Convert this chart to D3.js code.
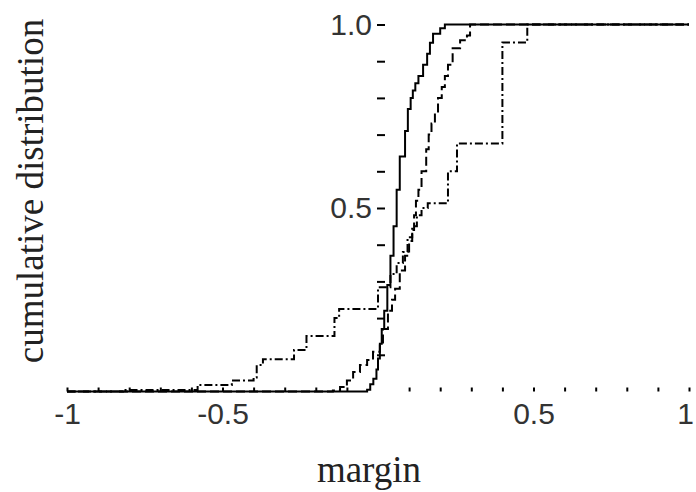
<!doctype html>
<html>
<head>
<meta charset="utf-8"/>
<style>
    html, body { margin: 0; padding: 0; background: #fff; }
    svg { display: block; }
    .tick-label { font-family: 'Liberation Sans', Arial, sans-serif; font-size: 30px; fill: #333; }
    .title { font-family: 'Liberation Serif', 'Times New Roman', serif; font-size: 37px; fill: #222; }
</style>
<script src="https://d3js.org/d3.v7.min.js"></script>
</head>
<body>
<svg id="chart" width="696" height="492"></svg>
<script>
    // --- DATA (step points: at x the cumulative value jumps to y) --- //
    var solidX = [-1, -0.035, -0.025, -0.015, -0.005, 0, 0.006, 0.012, 0.02, 0.03, 0.04, 0.05, 0.06, 0.07, 0.087,
        0.096, 0.105, 0.112, 0.12, 0.13, 0.145, 0.158, 0.167, 0.177, 0.2, 0.215, 1];
    var solidY = [0, 0.005, 0.02, 0.035, 0.06, 0.09, 0.13, 0.17, 0.22, 0.29, 0.37, 0.45, 0.55, 0.64, 0.71,
        0.77, 0.8, 0.82, 0.84, 0.86, 0.89, 0.92, 0.95, 0.975, 0.99, 1, 1];

    var dashedX = [-1, -0.145, -0.122, -0.1, -0.08, -0.058, -0.035, -0.016, 0.006, 0.016, 0.032, 0.045, 0.055, 0.07,
        0.087, 0.1, 0.11, 0.116, 0.122, 0.13, 0.14, 0.155, 0.163, 0.172, 0.183, 0.193, 0.205, 0.215, 0.225,
        0.24, 0.264, 0.286, 0.296, 1];
    var dashedY = [0, 0.003, 0.012, 0.03, 0.053, 0.072, 0.086, 0.108, 0.13, 0.17, 0.22, 0.25, 0.28, 0.33,
        0.37, 0.41, 0.44, 0.48, 0.52, 0.55, 0.6, 0.66, 0.7, 0.73, 0.76, 0.8, 0.83, 0.86, 0.89,
        0.935, 0.957, 0.97, 1, 1];

    var dashDotX = [-1, -0.82, -0.58, -0.47, -0.4, -0.39, -0.37, -0.27, -0.23, -0.14, -0.125, 0, 0.04, 0.06, 0.08,
        0.095, 0.11, 0.125, 0.14, 0.16, 0.225, 0.254, 0.4, 0.48, 1];
    var dashDotY = [0, 0.004, 0.018, 0.03, 0.038, 0.072, 0.088, 0.113, 0.151, 0.2, 0.225, 0.284, 0.32, 0.35, 0.38,
        0.42, 0.45, 0.48, 0.5, 0.513, 0.6, 0.676, 0.951, 1, 1];

    var xTickValues = [-1, -0.9, -0.8, -0.7, -0.6, -0.5, -0.4, -0.3, -0.2, -0.1, 0.1, 0.2, 0.3, 0.4, 0.5, 0.6, 0.7, 0.8, 0.9, 1];
    var xTickLabels = {"-1": "-1", "-0.5": "-0.5", "0.5": "0.5", "1": "1"};
    var yTickValues = [0.1, 0.2, 0.3, 0.4, 0.5, 0.6, 0.7, 0.8, 0.9, 1];
    var yTickLabels = {"0.5": "0.5", "1": "1.0"};

    var svg = d3.select("#chart");

    var x = d3.scaleLinear().domain([-1, 1]).range([67, 689]);
    var y = d3.scaleLinear().domain([0, 1]).range([391.5, 24.5]);

    // --- AXES --- //
    var xAxis = d3.axisBottom(x)
        .tickValues(xTickValues)
        .tickSizeInner(-4)
        .tickSizeOuter(0)
        .tickPadding(11.5)
        .tickFormat(function(d) { return xTickLabels[String(d)] || ""; });

    var gx = svg.append("g")
        .attr("transform", "translate(0," + y(0) + ")")
        .call(xAxis);
    gx.select(".domain").remove();
    gx.selectAll("line").attr("stroke", "#000").attr("stroke-width", 2);
    gx.selectAll("text").attr("class", "tick-label").attr("font-family", null).attr("font-size", null).attr("fill", null);
    // the last label sits against the right edge
    gx.selectAll("text").filter(function(d) { return d === 1; }).attr("dx", -4);

    var yAxis = d3.axisLeft(y)
        .tickValues(yTickValues)
        .tickSizeInner(-8)
        .tickSizeOuter(0)
        .tickPadding(5)
        .tickFormat(function(d) { return yTickLabels[String(d)] || ""; });

    var gy = svg.append("g")
        .attr("transform", "translate(" + (x(0) - 1) + ",0)")
        .call(yAxis);
    gy.select(".domain").remove();
    gy.selectAll("line").attr("stroke", "#000").attr("stroke-width", 2);
    gy.selectAll("text").attr("class", "tick-label").attr("font-family", null).attr("font-size", null).attr("fill", null);

    // --- CURVES --- //
    var line = d3.line()
        .x(function(d) { return x(d[0]); })
        .y(function(d) { return y(d[1]); })
        .curve(d3.curveStepAfter);

    function zip(xs, ys) { return xs.map(function(v, i) { return [v, ys[i]]; }); }

    var curves = [
        {pts: zip(dashDotX, dashDotY), dash: "8,3,2,3"},
        {pts: zip(dashedX, dashedY), dash: "9,4"},
        {pts: zip(solidX, solidY), dash: null}
    ];

    svg.append("g").selectAll("path")
        .data(curves)
        .enter().append("path")
        .attr("d", function(d) { return line(d.pts); })
        .attr("fill", "none")
        .attr("stroke", "#000")
        .attr("stroke-width", 2)
        .attr("stroke-dasharray", function(d) { return d.dash; });

    // --- TITLES --- //
    svg.append("text")
        .attr("class", "title")
        .attr("x", 369)
        .attr("y", 482)
        .attr("text-anchor", "middle")
        .text("margin");

    svg.append("text")
        .attr("class", "title")
        .attr("transform", "translate(43,191) rotate(-90)")
        .attr("text-anchor", "middle")
        .text("cumulative distribution");
</script>
</body>
</html>
